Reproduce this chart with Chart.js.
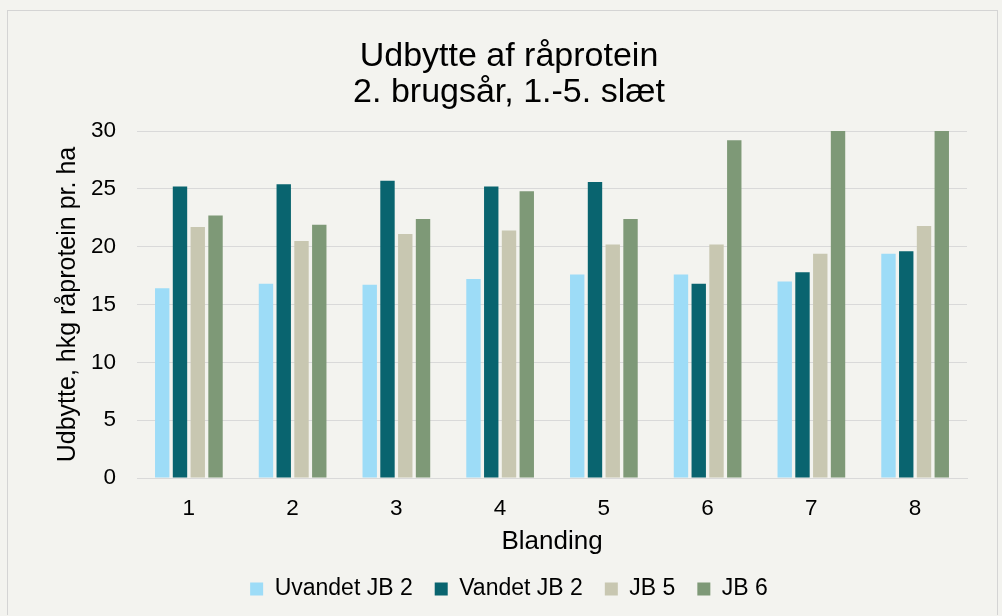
<!DOCTYPE html>
<html><head><meta charset="utf-8">
<script src="https://cdn.jsdelivr.net/npm/chart.js@4.4.1/dist/chart.umd.min.js"></script>
<style>
html,body{margin:0;padding:0;background:#f3f3ef;width:1002px;height:616px;overflow:hidden}
#box{position:absolute;left:7px;top:10px;width:989px;height:604px;border:1px solid #d4d4d4;border-bottom:none;background:#f3f3ef}
canvas{display:block}
</style></head><body>
<div id="box"><canvas id="c" width="989" height="604"></canvas></div>
<script>
const categories = ['1','2','3','4','5','6','7','8'];
const uvandetJB2 = [16.4, 16.8, 16.7, 17.2, 17.6, 17.6, 17.0, 19.4];
const vandetJB2  = [25.2, 25.4, 25.7, 25.2, 25.6, 16.8, 17.8, 19.6];
const jb5        = [21.7, 20.5, 21.1, 21.4, 20.2, 20.2, 19.4, 21.8];
const jb6        = [22.7, 21.9, 22.4, 24.8, 22.4, 29.2, 31.5, 32.0];
const seriesNames = ['Uvandet JB 2','Vandet JB 2','JB 5','JB 6'];
const titleLines = ['Udbytte af råprotein','2. brugsår, 1.-5. slæt'];
const yTitle = 'Udbytte, hkg råprotein pr. ha';
const xTitle = 'Blanding';

const colors = ['#9ddcf7','#09646f','#c8c7b1','#7e9977'];
const font = 'Liberation Sans, Arial, sans-serif';
const ds = [uvandetJB2, vandetJB2, jb5, jb6].map((d,i)=>({
  label: seriesNames[i], data: d, backgroundColor: colors[i],
  borderWidth: 0, barPercentage: 0.81, categoryPercentage: 0.685
}));
new Chart(document.getElementById('c'), {
  type: 'bar',
  data: { labels: categories, datasets: ds },
  options: {
    responsive: false, animation: false,
    layout: { padding: { left: 43, right: 30, top: 0, bottom: 4.5 } },
    plugins: {
      title: { display: true, text: titleLines, color: '#000',
        font: { family: font, size: 34, weight: 'normal', lineHeight: 1.08 },
        padding: { top: 27, bottom: 19.6 } },
      legend: { position: 'bottom',
        labels: { color: '#000', font: { family: font, size: 23 }, boxWidth: 13, boxHeight: 13, padding: 22 } },
      tooltip: { enabled: false }
    },
    scales: {
      x: {
        grid: { display: false, drawTicks: false },
        border: { display: true, color: '#d9d9d9', width: 1 },
        ticks: { color: '#000', font: { family: font, size: 22.5 }, padding: 17 },
        title: { display: true, text: xTitle, color: '#000', font: { family: font, size: 26, lineHeight: 1.04 }, padding: 0 },
        afterFit: s => { s.height = 77.5; }
      },
      y: {
        min: 0, max: 30,
        ticks: { stepSize: 5, color: '#000', font: { family: font, size: 22.5 }, padding: 21 },
        grid: { color: '#d9d9d9', lineWidth: 1, drawTicks: false },
        border: { display: false },
        title: { display: true, text: yTitle, color: '#000', font: { family: font, size: 25, lineHeight: 1.2 }, padding: { top: 2, bottom: 0 } },
        afterFit: s => { s.width = 86; }
      }
    }
  }
});
</script></body></html>
